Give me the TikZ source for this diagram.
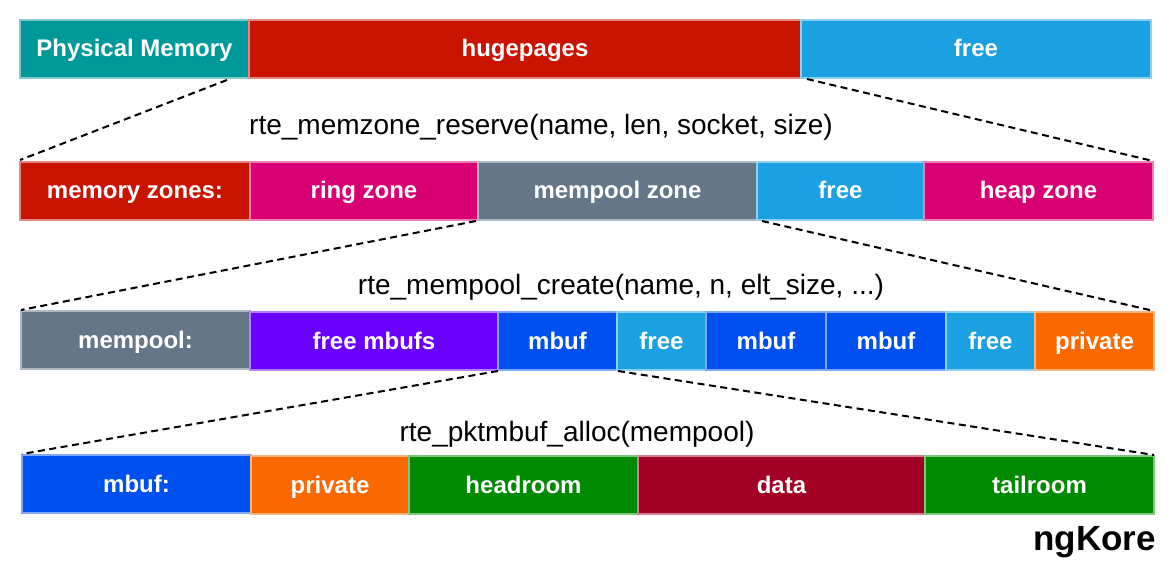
\documentclass[tikz,border=0pt]{standalone}
\usepackage{fontspec}
\setmainfont{Liberation Sans}
\usetikzlibrary{calc}
\definecolor{cteal}{HTML}{009999}
\definecolor{cred}{HTML}{C81400}
\definecolor{clblue}{HTML}{1BA1E2}
\definecolor{cmag}{HTML}{D80073}
\definecolor{cgray}{HTML}{647687}
\definecolor{cpurple}{HTML}{6A00FF}
\definecolor{cblue}{HTML}{0050EF}
\definecolor{corange}{HTML}{FA6800}
\definecolor{cgreen}{HTML}{008A00}
\definecolor{cdata}{HTML}{A20025}
\tikzset{
  bx/.style={fill=#1, draw=#1!50!white, line width=1.2pt, inner sep=0pt, outer sep=0pt,
    text=white, font=\fontsize{24}{28}\selectfont\bfseries, anchor=north west,
    text height=20pt, text depth=4pt},
  fn/.style={font=\fontsize{28}{32}\selectfont, text=black, inner sep=0pt},
  dl/.style={draw=black, line width=2pt, dash pattern=on 7pt off 4.5pt},
}
\newcommand{\bxnode}[7]{% name, color, x1, x2, y1, y2, text
  \node[bx=#2, minimum width={#4-#3}, minimum height={#6-#5}] (#1) at (#3,#5) {#7};}
\begin{document}
\begin{tikzpicture}[x=1pt,y=-1pt]
\useasboundingbox (0,0) rectangle (1170,572);
% row 1
\bxnode{pm}{cteal}{20}{249}{20}{78}{Physical Memory}
\bxnode{hp}{cred}{249}{801}{20}{78}{hugepages}
\bxnode{fa}{clblue}{801}{1151}{20}{78}{free}
% row 2
\bxnode{mz}{cred}{20}{250}{162}{220}{memory zones:}
\bxnode{rz}{cmag}{250}{478}{162}{220}{ring zone}
\bxnode{mpz}{cgray}{478}{757}{162}{220}{mempool zone}
\bxnode{fb}{clblue}{757}{924}{162}{220}{free}
\bxnode{hz}{cmag}{924}{1153}{162}{220}{heap zone}
% row 3
\bxnode{mp}{cgray}{21}{250}{311}{369}{mempool:}
\bxnode{fm}{cpurple}{250}{498}{312}{370}{free mbufs}
\bxnode{mb1}{cblue}{498}{617}{312}{370}{mbuf}
\bxnode{fc}{clblue}{617}{706}{312}{370}{free}
\bxnode{mb2}{cblue}{706}{826}{312}{370}{mbuf}
\bxnode{mb3}{cblue}{826}{946}{312}{370}{mbuf}
\bxnode{fd}{clblue}{946}{1035}{312}{370}{free}
\bxnode{pr}{corange}{1035}{1154}{312}{370}{private}
% row 4
\bxnode{mb}{cblue}{22}{251}{455}{513}{mbuf:}
\bxnode{pv}{corange}{251}{409}{456}{514}{private}
\bxnode{hr}{cgreen}{409}{638}{456}{514}{headroom}
\bxnode{dt}{cdata}{638}{925}{456}{514}{data}
\bxnode{tr}{cgreen}{925}{1154}{456}{514}{tailroom}
% function labels
\node[fn] (f1) at (541,127) {rte\_memzone\_reserve(name, len, socket, size)};
\node[fn] (f2) at (621,287) {rte\_mempool\_create(name, n, elt\_size, ...)};
\node[fn] (f3) at (577,434) {rte\_pktmbuf\_alloc(mempool)};
\node[font=\fontsize{35}{40}\selectfont\bfseries, anchor=east, inner sep=0pt] (ng) at (1156,542) {ngKore};
% dashed connectors
\coordinate (a1) at ($(pm.south west)+(207,2)$);
\coordinate (a2) at ($(fa.south west)+(6,1)$);
\draw[dl] (a1) -- ($(mz.north west)+(0,-2)$);
\draw[dl] (a2) -- ($(hz.north east)+(0,-1)$);
\draw[dl] ($(mpz.south west)+(-2,1)$) -- ($(mp.north west)+(0,-1)$);
\draw[dl] ($(mpz.south east)+(5,1)$) -- ($(pr.north east)+(0,-1)$);
\draw[dl] ($(mb1.south west)+(0,1)$) -- ($(mb.north west)+(0,-1)$);
\draw[dl] ($(mb1.south east)+(1,1)$) -- ($(tr.north east)+(0,-1)$);
\end{tikzpicture}
\end{document}
